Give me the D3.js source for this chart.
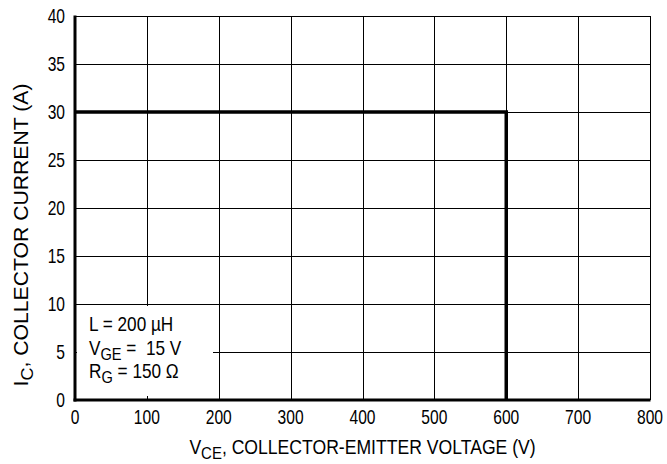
<!DOCTYPE html>
<html><head><meta charset="utf-8">
<script src="https://cdn.jsdelivr.net/npm/d3@7"></script>
<style>
html,body{margin:0;padding:0;background:#fff;}
svg text{font-family:"Liberation Sans",Arial,sans-serif;fill:#000;}
</style></head>
<body>
<svg id="chart" width="667" height="464"></svg>
<script>
const xTicks = [0,100,200,300,400,500,600,700,800];
const yTicks = [0,5,10,15,20,25,30,35,40];
const rbsoaV = [0,600,600];
const rbsoaI = [30,30,0];
const legendLines = [
  {main:"L = 200 µH", sub:"", rest:""},
  {main:"V", sub:"GE", rest:" =  15 V"},
  {main:"R", sub:"G", rest:" = 150 Ω"}
];
const xLabel = {main:"V", sub:"CE", rest:", COLLECTOR-EMITTER VOLTAGE (V)"};
const yLabel = {main:"I", sub:"C", rest:", COLLECTOR CURRENT (A)"};

const svg = d3.select("#chart");
const L=75, R=650, T=16, B=400;
const x = d3.scaleLinear().domain([0,800]).range([L,R]);
const y = d3.scaleLinear().domain([0,40]).range([B,T]);
const FS = 20, SUBFS = 17;

// grid
const g = svg.append("g");
g.append("g").attr("transform",`translate(0,${B})`)
  .call(d3.axisBottom(x).tickValues(xTicks).tickSize(-(B-T)).tickFormat(""))
  .call(s=>s.select(".domain").remove())
  .call(s=>s.selectAll("line").attr("stroke","#000").attr("stroke-width",1).attr("shape-rendering","crispEdges"));
g.append("g").attr("transform",`translate(${L},0)`)
  .call(d3.axisLeft(y).tickValues(yTicks).tickSize(-(R-L)).tickFormat(""))
  .call(s=>s.select(".domain").remove())
  .call(s=>s.selectAll("line").attr("stroke","#000").attr("stroke-width",1).attr("shape-rendering","crispEdges"));

// tick labels (condensed)
svg.append("g").selectAll("g").data(xTicks).join("g")
  .attr("transform",d=>`translate(${x(d)},424) scale(0.78,1)`)
  .append("text").attr("text-anchor","middle").attr("font-size",FS).text(d=>d);
svg.append("g").selectAll("g").data(yTicks).join("g")
  .attr("transform",d=>`translate(65,${y(d)+7}) scale(0.78,1)`)
  .append("text").attr("text-anchor","end").attr("font-size",FS).text(d=>d);

// legend box
svg.append("rect").attr("x",L+2).attr("y",y(10)+2).attr("width",136).attr("height",B-y(10)-6).attr("fill","#fff");
const lgY = [331,354.5,378];
legendLines.forEach((d,i)=>{
  const t = svg.append("g").attr("transform",`translate(89,${lgY[i]}) scale(0.86,1)`)
    .append("text").attr("font-size",FS).attr("xml:space","preserve").style("white-space","pre");
  t.append("tspan").text(d.main);
  if(d.sub){ t.append("tspan").attr("dy",5).attr("font-size",SUBFS).text(d.sub);
    t.append("tspan").attr("dy",-5).text(d.rest); }
});

// axes thick
svg.append("line").attr("x1",L).attr("x2",L).attr("y1",T-0.5).attr("y2",B+1.5).attr("stroke","#000").attr("stroke-width",3);
svg.append("line").attr("x1",L-1.5).attr("x2",R+0.5).attr("y1",B).attr("y2",B).attr("stroke","#000").attr("stroke-width",3);

// data line
const line = d3.line().x((d,i)=>x(rbsoaV[i])).y((d,i)=>y(rbsoaI[i]));
svg.append("path").datum(rbsoaV).attr("d",line).attr("fill","none").attr("stroke","#000").attr("stroke-width",3.5);

// axis labels
function lab(sel,d){
  sel.append("tspan").text(d.main);
  sel.append("tspan").attr("dy",5).attr("font-size",SUBFS).text(d.sub);
  sel.append("tspan").attr("dy",-5).text(d.rest);
}
svg.append("g").attr("transform",`translate(${(L+R)/2},454) scale(0.88,1)`)
  .append("text").attr("text-anchor","middle").attr("font-size",FS).call(lab,xLabel);
svg.append("g").attr("transform",`translate(28,235) rotate(-90) scale(1.06,1)`)
  .append("text").attr("text-anchor","middle").attr("font-size",FS).call(lab,yLabel);
</script>
</body></html>
